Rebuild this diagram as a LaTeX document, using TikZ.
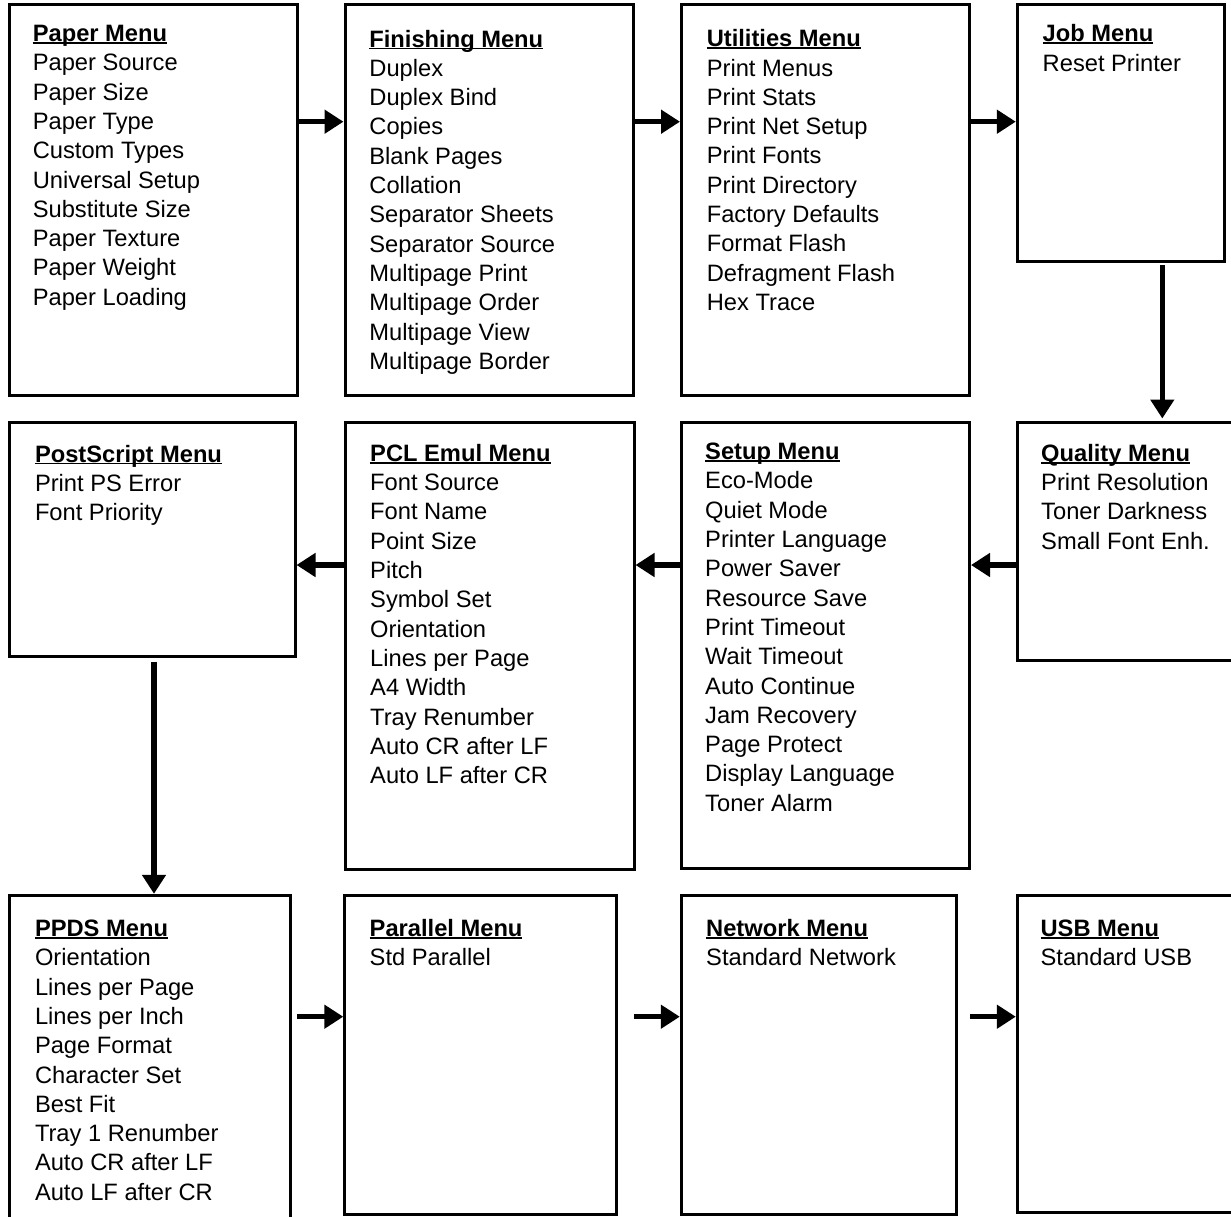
\documentclass[tikz,border=0pt]{standalone}
\usepackage{fontspec}
\setmainfont{Liberation Sans}
\usepackage{tikz}
\usetikzlibrary{arrows, arrows.meta}
\usetikzlibrary{calc}

\newcommand{\mtitle}[1]{{\bfseries\strut\setbox0\hbox{#1}\rlap{\rule[-2.3pt]{\wd0}{1.8pt}}\box0}}

\begin{document}
\begin{tikzpicture}[x=1pt, y={(0,-1pt)},
  box/.style={draw, line width=3pt, anchor=north west, inner sep=0pt, minimum width=288.3pt},
  items/.style={anchor=north west, align=left, inner sep=0pt, font=\fontsize{23.7}{29.3}\selectfont},
  flow/.style={-{Triangle[length=19pt,width=23pt]}, line width=5.5pt}]
\useasboundingbox (0,0) rectangle (1231,1216);
\clip (0,0) rectangle (1231,1216);

% Rows and columns of the arrows
\coordinate (r1) at (0,121.7);
\coordinate (r2) at (0,565);
\coordinate (r3) at (0,1016.7);
\coordinate (c1) at (154,0);
\coordinate (c4) at (1162.3,0);

% Boxes
\node[box, minimum width=287.8pt, minimum height=390.4pt] (paper) at (8,3.3) {};
\node[box, minimum height=390.4pt] (finishing) at (343.5,3.3) {};
\node[box, minimum height=390.4pt] (utilities) at (680,3.3) {};
\node[box, minimum width=206.7pt, minimum height=256.9pt] (job) at (1015.8,3.3) {};

\node[box, minimum width=285.5pt, minimum height=234pt] (postscript) at (8,420.5) {};
\node[box, minimum width=289pt, minimum height=447pt] (pcl) at (343.5,420.5) {};
\node[box, minimum width=288.2pt, minimum height=446.7pt] (setup) at (679.8,420.5) {};
\node[box, minimum width=260pt, minimum height=238.7pt] (quality) at (1015.8,420.5) {};

\node[box, minimum width=281.2pt, minimum height=360pt] (ppds) at (8,893.8) {};
\node[box, minimum width=271.2pt, minimum height=318.7pt] (parallel) at (343.3,893.8) {};
\node[box, minimum width=275.2pt, minimum height=318.7pt] (network) at (679.8,893.8) {};
\node[box, minimum width=260pt, minimum height=317.2pt] (usb) at (1015.8,893.8) {};

% Menu texts (first line at the top, a strut in the title)
\node[items] (papertxt) at (32.6,20.8) {\mtitle{Paper Menu}\\Paper Source\\Paper Size\\Paper Type\\Custom Types\\Universal Setup\\Substitute Size\\Paper Texture\\Paper Weight\\Paper Loading};
\node[items] (finishingtxt) at (369.2,26.3) {\mtitle{Finishing Menu}\\Duplex\\Duplex Bind\\Copies\\Blank Pages\\Collation\\Separator Sheets\\Separator Source\\Multipage Print\\Multipage Order\\Multipage View\\Multipage Border};
\node[items] (utilitiestxt) at (706.6,26) {\mtitle{Utilities Menu}\\Print Menus\\Print Stats\\Print Net Setup\\Print Fonts\\Print Directory\\Factory Defaults\\Format Flash\\Defragment Flash\\Hex Trace};
\node[items] (jobtxt) at (1042.5,21) {\mtitle{Job Menu}\\Reset Printer};

\node[items] (postscripttxt) at (34.8,441.3) {\mtitle{PostScript Menu}\\Print PS Error\\Font Priority};
\node[items] (pcltxt) at (370,440.6) {\mtitle{PCL Emul Menu}\\Font Source\\Font Name\\Point Size\\Pitch\\Symbol Set\\Orientation\\Lines per Page\\A4 Width\\Tray Renumber\\Auto CR after LF\\Auto LF after CR};
\node[items] (setuptxt) at (705,438.9) {\mtitle{Setup Menu}\\Eco-Mode\\Quiet Mode\\Printer Language\\Power Saver\\Resource Save\\Print Timeout\\Wait Timeout\\Auto Continue\\Jam Recovery\\Page Protect\\Display Language\\Toner Alarm};
\node[items] (qualitytxt) at (1041,440.6) {\mtitle{Quality Menu}\\Print Resolution\\Toner Darkness\\Small Font Enh.};

\node[items] (ppdstxt) at (34.8,915.8) {\mtitle{PPDS Menu}\\Orientation\\Lines per Page\\Lines per Inch\\Page Format\\Character Set\\Best Fit\\Tray 1 Renumber\\Auto CR after LF\\Auto LF after CR};
\node[items] (paralleltxt) at (369.5,915.8) {\mtitle{Parallel Menu}\\Std Parallel};
\node[items] (networktxt) at (706,915.8) {\mtitle{Network Menu}\\Standard Network};
\node[items] (usbtxt) at (1040.4,915.8) {\mtitle{USB Menu}\\Standard USB};

% Arrows
\draw[flow] (paper.east |- r1) -- (finishing.west |- r1);
\draw[flow] (finishing.east |- r1) -- (utilities.west |- r1);
\draw[flow] (utilities.east |- r1) -- (job.west |- r1);
\draw[flow, shorten <=2pt, shorten >=2pt] (job.south -| c4) -- (quality.north -| c4);
\draw[flow] (quality.west |- r2) -- (setup.east |- r2);
\draw[flow] (setup.west |- r2) -- (pcl.east |- r2);
\draw[flow] (pcl.west |- r2) -- (postscript.east |- r2);
\draw[flow, shorten <=4pt] (postscript.south -| c1) -- (ppds.north -| c1);
\draw[flow, shorten <=5pt] (ppds.east |- r3) -- (parallel.west |- r3);
\draw[flow, shorten <=16pt] (parallel.east |- r3) -- (network.west |- r3);
\draw[flow, shorten <=12pt] (network.east |- r3) -- (usb.west |- r3);
\end{tikzpicture}
\end{document}
